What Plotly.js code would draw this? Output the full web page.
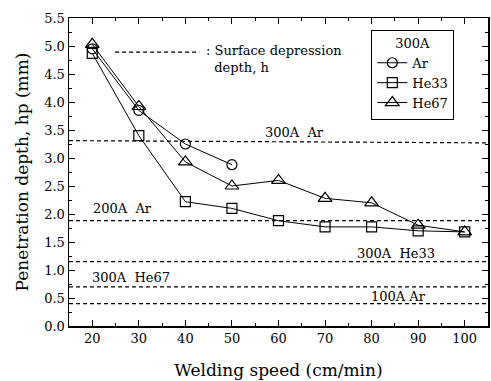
<!DOCTYPE html>
<html>
<head>
<meta charset="utf-8">
<script src="https://cdn.plot.ly/plotly-3.0.1.min.js"></script>
<style>html,body{margin:0;padding:0;background:#fff;}#chart{width:491px;height:381px;}</style>
</head>
<body>
<div id="chart"></div>
<script>
// Data
var speeds = [20, 30, 40, 50, 60, 70, 80, 90, 100];
var arSpeeds = [20, 30, 40, 50];
var arDepth = [4.95, 3.85, 3.25, 2.88];
var he33Depth = [4.87, 3.40, 2.22, 2.10, 1.88, 1.77, 1.77, 1.70, 1.68];
var he67Depth = [5.03, 3.92, 2.93, 2.50, 2.60, 2.28, 2.20, 1.80, 1.68];
var seriesNames = ["Ar", "He33", "He67"];
var legendTitle = "300A";

// Surface depression depth lines (h)
var hLabels = ["300A  Ar", "200A  Ar", "300A  He33", "300A  He67", "100A Ar"];
var hStart = [3.31, 1.88, 1.15, 0.70, 0.40];
var hEnd = [3.27, 1.88, 1.15, 0.70, 0.40];
var hLabelX = [63.4, 26.4, 85.3, 28.3, 85.7];
var hLabelY = [3.46, 2.09, 1.29, 0.86, 0.52];
var xRange = [15, 105];

var serif = "DejaVu Serif, serif";
var traces = [];
for (var i = 0; i < hLabels.length; i++) {
  traces.push({
    x: xRange, y: [hStart[i], hEnd[i]], mode: "lines", showlegend: false,
    line: {color: "#000", width: 1.2, dash: "4px,3px"}, hoverinfo: "skip"
  });
}
traces.push({x: arSpeeds, y: arDepth, name: seriesNames[0], mode: "lines+markers",
  line: {color: "#000", width: 1}, marker: {symbol: "circle-open", size: 10, color: "#000", line: {width: 1.2}}});
traces.push({x: speeds, y: he33Depth, name: seriesNames[1], mode: "lines+markers",
  line: {color: "#000", width: 1}, marker: {symbol: "square-open", size: 10, color: "#000", line: {width: 1.2}}});
traces.push({x: speeds, y: he67Depth, name: seriesNames[2], mode: "lines+markers",
  line: {color: "#000", width: 1}, marker: {symbol: "triangle-up-open", size: 12, color: "#000", line: {width: 1.2}}});

var annotations = [];
for (var j = 0; j < hLabels.length; j++) {
  annotations.push({x: hLabelX[j], y: hLabelY[j], xref: "x", yref: "y", text: hLabels[j],
    showarrow: false, font: {family: serif, size: 13, color: "#000"}});
}
annotations.push({x: 44.0, y: 4.77, xref: "x", yref: "y", text: ": Surface depression<br>  depth, h",
  showarrow: false, xanchor: "left", yanchor: "middle", align: "left",
  font: {family: serif, size: 13, color: "#000"}});

var shapes = [{type: "line", xref: "x", yref: "y", x0: 24.9, x1: 43.0, y0: 4.89, y1: 4.89,
  line: {color: "#000", width: 1.2, dash: "4px,3px"}}];

var axisCommon = {showline: true, linecolor: "#000", linewidth: 1.5, mirror: "ticks",
  ticks: "inside", ticklen: 6, tickwidth: 1, tickcolor: "#000", showgrid: false, zeroline: false,
  tickfont: {family: serif, size: 13, color: "#000"}};

var layout = {
  width: 491, height: 381,
  margin: {l: 69, r: 3, t: 18, b: 55},
  paper_bgcolor: "#fff", plot_bgcolor: "#fff",
  showlegend: true,
  legend: {x: 0.721, y: 0.962, xanchor: "left", yanchor: "top",
    bordercolor: "#000", borderwidth: 1.2, bgcolor: "#fff",
    title: {text: legendTitle, side: "top center", font: {family: serif, size: 13, color: "#000"}},
    font: {family: serif, size: 13, color: "#000"}, tracegroupgap: 0, itemwidth: 30},
  xaxis: Object.assign({}, axisCommon, {range: xRange, tickvals: speeds,
    minor: {dtick: 5, ticks: "inside", ticklen: 3, tickcolor: "#000"},
    title: {text: "Welding speed (cm/min)", font: {family: serif, size: 17, color: "#000"}, standoff: 19}}),
  yaxis: Object.assign({}, axisCommon, {range: [0, 5.5], dtick: 0.5, tickformat: ".1f",
    minor: {dtick: 0.25, ticks: "inside", ticklen: 3, tickcolor: "#000"},
    title: {text: "Penetration depth, hp (mm)", font: {family: serif, size: 17, color: "#000"}, standoff: 11}}),
  annotations: annotations,
  shapes: shapes
};

Plotly.newPlot("chart", traces, layout, {displayModeBar: false, staticPlot: true});
</script>
</body>
</html>
